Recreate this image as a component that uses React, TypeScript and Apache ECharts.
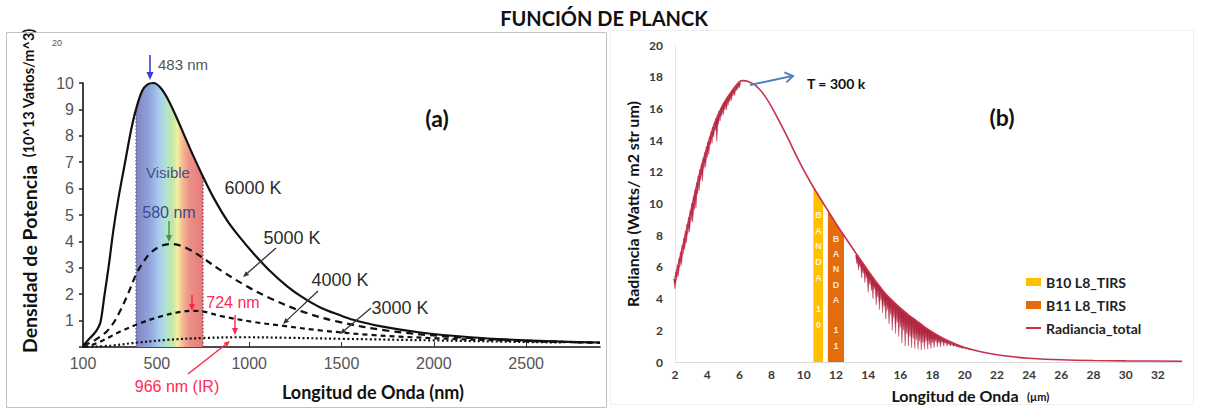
import React, { useEffect, useRef } from 'react';
import * as echarts from 'echarts';

// ---------- Panel (a): Planck curves (x: nm, y: 10^13 W/m^3) ----------
const xTicksA = [100, 500, 1000, 1500, 2000, 2500];
const visibleRange = [387, 750];

const curve6000K: [number, number][] = [
  [100, 0.05], [120, 0.2], [138, 0.34], [160, 0.5], [180, 0.7], [195, 0.95], [215, 1.9],
  [240, 3.1], [264, 4.4], [291, 5.6], [328, 7.0], [360, 8.2], [387, 9.0], [420, 9.7],
  [450, 9.95], [483, 10.0], [520, 9.82], [555, 9.45], [600, 8.8], [653, 7.95], [700, 7.2],
  [750, 6.45], [810, 5.62], [880, 4.8], [950, 4.15], [1021, 3.56], [1110, 2.9], [1206, 2.3],
  [1290, 1.88], [1385, 1.5], [1493, 1.2], [1563, 1.03], [1700, 0.8], [1927, 0.55],
  [2198, 0.37], [2469, 0.26], [2700, 0.2], [2900, 0.17],
];
const curve5000K: [number, number][] = [
  [100, 0.05], [150, 0.2], [192, 0.39], [230, 0.6], [264, 0.9], [300, 1.35], [337, 1.9],
  [391, 2.8], [430, 3.25], [463, 3.55], [520, 3.82], [580, 3.9], [662, 3.74], [752, 3.36],
  [842, 2.92], [987, 2.3], [1113, 1.85], [1293, 1.33], [1474, 0.97], [1747, 0.62],
  [2104, 0.38], [2500, 0.24], [2900, 0.16],
];
const curve4000K: [number, number][] = [
  [100, 0.0], [150, 0.08], [192, 0.2], [250, 0.4], [300, 0.58], [409, 0.9], [517, 1.15],
  [626, 1.33], [700, 1.37], [760, 1.33], [842, 1.18], [1022, 0.95], [1185, 0.8],
  [1384, 0.63], [1655, 0.46], [2015, 0.33], [2400, 0.24], [2900, 0.16],
];
const curve3000K: [number, number][] = [
  [120, 0.0], [250, 0.05], [371, 0.15], [555, 0.27], [750, 0.34], [966, 0.37], [1200, 0.35],
  [1500, 0.31], [2000, 0.25], [2500, 0.19], [2700, 0.17],
];

// ---------- Panel (b): radiance at T = 300 K (x: µm, y: W/m2 sr µm) ----------
const xTicksB = [2, 4, 6, 8, 10, 12, 14, 16, 18, 20, 22, 24, 26, 28, 30, 32];
const radianciaTotal: [number, number][] = [
  [2.0, 5.3], [2.5, 7.4], [3.0, 9.6], [3.5, 11.78], [4.0, 13.6], [4.5, 15.17], [5.0, 16.27],
  [5.5, 17.06], [6.0, 17.68], [6.25, 17.75], [6.5, 17.72], [7.0, 17.45], [7.5, 16.9],
  [8.0, 16.1], [8.5, 15.15], [9.0, 14.15], [9.5, 13.1], [10.0, 12.1], [10.5, 11.2],
  [11.0, 10.36], [11.5, 9.55], [12.0, 8.75], [12.5, 7.98], [13.0, 7.22], [13.5, 6.48],
  [14.0, 5.75], [14.5, 5.05], [15.0, 4.4], [15.5, 3.87], [16.0, 3.4], [16.5, 2.98],
  [17.0, 2.6], [17.5, 2.22], [18.0, 1.88], [18.5, 1.58], [19.0, 1.32], [19.5, 1.1],
  [20.0, 0.92], [21.0, 0.65], [22.0, 0.46], [23.0, 0.33], [24.0, 0.24], [26.0, 0.14],
  [28.0, 0.09], [30.0, 0.07], [33.5, 0.05],
];
const band10: [number, number][] = [[10.6, 11.03], [10.9, 10.53], [11.2, 10.04]];
const band11: [number, number][] = [[11.5, 9.55], [12.0, 8.75], [12.5, 7.98]];
// absorption lines: [µm, top (on the curve), bottom of the dip]
const absorptionLines: [number, number, number][] = [
  [2.0, 5.25, 4.6], [2.1, 5.67, 5.2], [2.2, 6.09, 5.4], [2.3, 6.51, 6.0], [2.4, 6.93, 6.1],
  [2.5, 7.35, 6.8], [2.6, 7.79, 7.1], [2.7, 8.23, 7.5], [2.8, 8.67, 8.1], [2.9, 9.11, 8.2],
  [3.0, 9.55, 8.9], [3.1, 9.99, 8.8], [3.2, 10.43, 9.6], [3.3, 10.86, 9.7], [3.4, 11.3, 10.6],
  [3.5, 11.73, 10.8], [3.6, 12.13, 11.5], [3.7, 12.49, 11.4], [3.8, 12.85, 12.2], [3.9, 13.2, 12.3],
  [4.0, 13.55, 12.9], [4.1, 13.88, 13.1], [4.2, 14.2, 13.7], [4.3, 14.52, 13.8], [4.4, 14.82, 14.2],
  [4.5, 15.1, 14.6], [4.6, 15.36, 13.9], [4.7, 15.6, 15.0], [4.8, 15.82, 15.2], [4.9, 16.03, 15.5],
  [5.0, 16.22, 15.6], [5.1, 16.39, 15.9], [5.2, 16.55, 15.9], [5.3, 16.7, 16.2], [5.4, 16.85, 16.4],
  [5.5, 17.0, 16.5], [5.6, 17.14, 16.8], [5.7, 17.27, 16.8], [5.8, 17.4, 17.1], [5.9, 17.52, 17.2],
  [6.0, 17.62, 17.3],
  [13.3, 6.73, 6.2], [13.4, 6.58, 5.8], [13.5, 6.43, 6.0], [13.6, 6.29, 5.3], [13.7, 6.15, 5.6],
  [13.8, 6.01, 5.0], [13.9, 5.85, 5.3], [14.0, 5.7, 4.4], [14.1, 5.56, 4.9], [14.2, 5.42, 4.5],
  [14.3, 5.28, 4.0], [14.4, 5.14, 4.6], [14.5, 5.0, 3.6], [14.6, 4.87, 4.1], [14.7, 4.74, 3.3],
  [14.8, 4.61, 3.9], [14.9, 4.48, 3.1], [15.0, 4.35, 3.5], [15.1, 4.24, 2.7], [15.2, 4.13, 3.3],
  [15.3, 4.03, 2.4], [15.4, 3.92, 3.0], [15.5, 3.82, 2.0], [15.6, 3.73, 2.8], [15.7, 3.63, 1.8],
  [15.8, 3.54, 2.5], [15.9, 3.44, 1.6], [16.0, 3.35, 2.2], [16.1, 3.27, 1.2], [16.2, 3.18, 2.0],
  [16.3, 3.1, 1.0], [16.4, 3.01, 1.8], [16.5, 2.93, 1.0], [16.6, 2.85, 1.6], [16.7, 2.78, 0.9],
  [16.8, 2.7, 1.5], [16.9, 2.63, 0.85], [17.0, 2.55, 1.4], [17.1, 2.47, 0.8], [17.2, 2.4, 1.3],
  [17.3, 2.32, 0.75], [17.4, 2.25, 1.2], [17.5, 2.17, 0.8], [17.6, 2.1, 1.3], [17.7, 2.03, 0.8],
  [17.8, 1.97, 1.1], [17.9, 1.9, 0.85], [18.0, 1.83, 1.2], [18.1, 1.77, 0.9], [18.2, 1.71, 1.3],
  [18.3, 1.65, 0.95], [18.4, 1.59, 1.2], [18.5, 1.53, 0.95], [18.6, 1.48, 1.25], [18.7, 1.43, 1.0],
  [18.8, 1.37, 1.2], [18.9, 1.32, 1.0], [19.0, 1.27, 1.12], [19.1, 1.23, 1.0], [19.2, 1.18, 1.08],
  [19.3, 1.14, 0.98], [19.4, 1.09, 1.0], [19.5, 1.05, 0.95], [19.6, 1.01, 0.93], [19.7, 0.98, 0.9],
  [19.8, 0.94, 0.88], [19.9, 0.91, 0.85], [20.1, 0.86, 0.8], [20.3, 0.82, 0.76],
];

const CALIBRI = 'Lato';
const HELV = 'Liberation Sans';

function arrow(x1: number, y1: number, x2: number, y2: number, color: string, lw: number, hl = 7, hw = 3.5) {
  const dx = x2 - x1, dy = y2 - y1, L = Math.hypot(dx, dy), ux = dx / L, uy = dy / L;
  const bx = x2 - ux * hl, by = y2 - uy * hl;
  return [
    { type: 'line', z: 100, shape: { x1, y1, x2: bx, y2: by }, style: { stroke: color, lineWidth: lw } },
    {
      type: 'polygon', z: 100,
      shape: { points: [[x2, y2], [bx - uy * hw, by + ux * hw], [bx + uy * hw, by - ux * hw]] },
      style: { fill: color },
    },
  ];
}

function txt(text: string, x: number, y: number, o: any = {}) {
  return {
    type: 'text', z: 100, x, y, rotation: o.rotation || 0,
    style: {
      text, fill: o.color || '#222', fontSize: o.size || 14, fontFamily: o.family || HELV,
      fontWeight: o.weight || 'normal', align: o.align || 'center', verticalAlign: o.valign || 'middle',
      lineHeight: o.lineHeight,
    },
  };
}

export default function App() {
  const ref = useRef<HTMLDivElement>(null);
  useEffect(() => {
    const chart = echarts.init(ref.current!, null, { renderer: 'svg' });
    const visibleBand = curve6000K.filter(p => p[0] >= visibleRange[0] && p[0] <= visibleRange[1]);
    const edgeL = visibleBand[0];
    const edgeR = visibleBand[visibleBand.length - 1];
    const lab = { fontFamily: CALIBRI, fontWeight: 'bold', fontSize: 12, color: '#3a3a3a' };
    const curveStyle = (type: any) => ({ color: '#111', width: 2.2, type });
    const bandText = { size: 9, weight: 'bold', color: 'rgba(255,255,255,0.85)', valign: 'top' };

    const graphic: any[] = [
      { type: 'rect', z: 90, shape: { x: 6.5, y: 32.5, width: 600, height: 375 }, style: { fill: 'none', stroke: '#c2c2c2', lineWidth: 1 } },
      { type: 'rect', z: 90, shape: { x: 610.5, y: 30.5, width: 583, height: 374 }, style: { fill: 'none', stroke: '#f0f0f0', lineWidth: 1 } },
      txt('FUNCIÓN DE PLANCK', 604, 18, { family: CALIBRI, weight: 'bold', size: 20, color: '#111' }),
      txt('20', 57, 43, { size: 9, color: '#555' }),
      txt('Densidad de Potencia', 29, 259, { family: CALIBRI, weight: 'bold', size: 19.5, rotation: Math.PI / 2, color: '#111' }),
      txt('(10^13 Vatios/m^3)', 28, 93, { family: CALIBRI, weight: 'bold', size: 14.5, rotation: Math.PI / 2, color: '#111' }),
      txt('Longitud de Onda (nm)', 373, 392, { family: CALIBRI, weight: 'bold', size: 18, color: '#111' }),
      txt('(a)', 437, 118, { family: CALIBRI, weight: 'bold', size: 23, color: '#111' }),
      txt('483 nm', 158, 64, { align: 'left', size: 15, color: '#555' }),
      txt('Visible', 168, 172, { size: 15, color: '#4b4b8c' }),
      txt('580 nm', 169, 212, { size: 16, color: '#3d4a8c' }),
      txt('724 nm', 233, 302, { size: 16, color: '#ff2a55' }),
      txt('966 nm (IR)', 177, 386, { size: 16, color: '#ff2a55' }),
      txt('6000 K', 253, 188, { size: 18, color: '#2b2b2b' }),
      txt('5000 K', 292, 238, { size: 18, color: '#2b2b2b' }),
      txt('4000 K', 340, 280, { size: 18, color: '#2b2b2b' }),
      txt('3000 K', 400, 308, { size: 18, color: '#2b2b2b' }),
      ...arrow(150, 55, 150, 80, '#3a3adc', 1.6, 8, 3.5),
      ...arrow(169, 221, 169, 242, '#3c9c3c', 1.4, 7, 3),
      ...arrow(192, 295, 192, 311, '#ff2244', 1.4, 7, 3),
      ...arrow(235, 315, 235, 335, '#ff2244', 1.4, 7, 3),
      ...arrow(188, 374, 230, 341, '#ff2244', 1.4, 6, 2.5),
      ...arrow(276, 248, 243, 277, '#333', 1.3, 6, 2.5),
      ...arrow(318, 291, 283, 324, '#333', 1.3, 6, 2.5),
      ...arrow(371, 308, 340, 334, '#333', 1.3, 6, 2.5),
      // panel b
      txt('Radiancia (Watts/ m2 str um)', 632, 204, { family: CALIBRI, weight: 'bold', size: 16, rotation: Math.PI / 2, color: '#111' }),
      txt('Longitud de Onda', 955, 395, { family: CALIBRI, weight: 'bold', size: 16, color: '#111' }),
      txt('(µm)', 1027, 396, { family: CALIBRI, weight: 'bold', size: 11, color: '#111', align: 'left' }),
      txt('(b)', 1002, 117, { family: CALIBRI, weight: 'bold', size: 23, color: '#111' }),
      txt('T = 300 k', 807, 83, { family: CALIBRI, weight: 'bold', size: 14, align: 'left', color: '#111' }),
      { type: 'line', z: 100, shape: { x1: 750, y1: 85, x2: 792, y2: 76 }, style: { stroke: '#4f81bd', lineWidth: 2 } },
      { type: 'polyline', z: 100, shape: { points: [[784.3, 72.4], [793, 76], [786.4, 82.4]] }, style: { stroke: '#4f81bd', lineWidth: 2, fill: 'none' } },
      txt('B\nA\nN\nD\nA\n\n1\n0', 818.5, 207, { ...bandText, lineHeight: 15.7 }),
      txt('B\nA\nN\nD\nA\n\n1\n1', 836, 231, { ...bandText, lineHeight: 15.3 }),
    ];

    chart.setOption({
      animation: false,
      backgroundColor: '#fff',
      grid: [
        { left: 83, top: 83, width: 517, height: 264 },
        { left: 675, top: 45, width: 507, height: 317 },
      ],
      xAxis: [
        {
          type: 'value', gridIndex: 0, min: 100, max: 2900,
          axisLine: { lineStyle: { color: '#111', width: 1.6 } },
          axisTick: { show: true, inside: true, length: 5, customValues: xTicksA, lineStyle: { color: '#333' } },
          axisLabel: { customValues: xTicksA, color: '#555', fontSize: 16, fontFamily: HELV, margin: 8, formatter: (v: number) => String(v) },
          splitLine: { show: false },
        },
        {
          type: 'value', gridIndex: 1, min: 2, max: 33.5,
          axisLine: { lineStyle: { color: '#d9d9d9', width: 1 } },
          axisTick: { show: false },
          axisLabel: { customValues: xTicksB, margin: 6, ...lab, formatter: (v: number) => String(v) },
          splitLine: { show: false },
        },
      ],
      yAxis: [
        {
          type: 'value', gridIndex: 0, min: 0, max: 10, interval: 1,
          axisLine: { show: true, lineStyle: { color: '#111', width: 1.6 } },
          axisTick: { show: true, length: 4, lineStyle: { color: '#222', width: 1.5 } },
          axisLabel: { color: '#555', fontSize: 16, fontFamily: HELV, margin: 9, formatter: (v: number) => (v === 0 ? '' : String(v)) },
          splitLine: { show: false },
        },
        {
          type: 'value', gridIndex: 1, min: 0, max: 20, interval: 2,
          axisLine: { show: true, lineStyle: { color: '#e6e6e6', width: 1 } },
          axisTick: { show: false },
          axisLabel: { margin: 12, ...lab },
          splitLine: { show: false },
        },
      ],
      legend: {
        left: 1020, top: 270, orient: 'vertical', itemWidth: 15, itemHeight: 8, itemGap: 9,
        textStyle: { fontFamily: CALIBRI, fontWeight: 'bold', fontSize: 14, color: '#222' },
        data: [
          { name: 'B10 L8_TIRS', icon: 'rect' },
          { name: 'B11 L8_TIRS', icon: 'rect' },
          { name: 'Radiancia_total', itemStyle: { opacity: 0 } },
        ],
      },
      graphic,
      series: [
        {
          name: 'Visible', type: 'line', xAxisIndex: 0, yAxisIndex: 0, data: visibleBand,
          smooth: 0.35, symbol: 'none', lineStyle: { width: 0 }, z: 1,
          areaStyle: {
            opacity: 1,
            color: new echarts.graphic.LinearGradient(0, 0, 1, 0, [
              { offset: 0, color: '#8282c4' }, { offset: 0.2, color: '#90a4dc' },
              { offset: 0.35, color: '#a9cdee' }, { offset: 0.45, color: '#b3e2d2' },
              { offset: 0.55, color: '#c4e8a2' }, { offset: 0.62, color: '#f2f0a2' },
              { offset: 0.7, color: '#f4b890' }, { offset: 0.8, color: '#ec9088' },
              { offset: 1, color: '#e87a7a' },
            ]),
          },
        },
        {
          name: 'edgeL', type: 'line', xAxisIndex: 0, yAxisIndex: 0, data: [[edgeL[0], 0], edgeL],
          symbol: 'none', lineStyle: { color: '#555', width: 1.2, type: [1.5, 2] }, z: 2,
        },
        {
          name: 'edgeR', type: 'line', xAxisIndex: 0, yAxisIndex: 0, data: [[edgeR[0], 0], edgeR],
          symbol: 'none', lineStyle: { color: '#555', width: 1.2, type: [1.5, 2] }, z: 2,
        },
        { name: '6000 K', type: 'line', xAxisIndex: 0, yAxisIndex: 0, data: curve6000K, smooth: 0.35, symbol: 'none', clip: false, lineStyle: curveStyle('solid'), z: 5 },
        { name: '5000 K', type: 'line', xAxisIndex: 0, yAxisIndex: 0, data: curve5000K, smooth: 0.35, symbol: 'none', clip: false, lineStyle: curveStyle([7, 5]), z: 5 },
        { name: '4000 K', type: 'line', xAxisIndex: 0, yAxisIndex: 0, data: curve4000K, smooth: 0.35, symbol: 'none', clip: false, lineStyle: curveStyle([5, 4]), z: 5 },
        { name: '3000 K', type: 'line', xAxisIndex: 0, yAxisIndex: 0, data: curve3000K, smooth: 0.35, symbol: 'none', clip: false, lineStyle: curveStyle([2, 2.5]), z: 5 },
        {
          name: 'B10 L8_TIRS', type: 'line', xAxisIndex: 1, yAxisIndex: 1, data: band10, color: '#ffc000',
          symbol: 'none', lineStyle: { width: 0 }, areaStyle: { color: '#ffc000', opacity: 1 }, z: 2,
        },
        {
          name: 'B11 L8_TIRS', type: 'line', xAxisIndex: 1, yAxisIndex: 1, data: band11, color: '#e46c0a',
          symbol: 'none', lineStyle: { width: 0 }, areaStyle: { color: '#e46c0a', opacity: 1 }, z: 2,
        },
        {
          name: 'Radiancia_total', type: 'line', xAxisIndex: 1, yAxisIndex: 1, data: radianciaTotal, color: '#c8304e',
          smooth: 0.3, symbol: 'none', lineStyle: { color: '#c8304e', width: 1.6 }, z: 4,
        },
        {
          name: 'absorcion', type: 'custom', xAxisIndex: 1, yAxisIndex: 1, data: absorptionLines, z: 3,
          encode: { x: 0, y: [1, 2] },
          renderItem: (_p: any, api: any) => {
            const x = api.value(0), t = api.value(1), b = api.value(2);
            const p1 = api.coord([x - 0.085, t]), p2 = api.coord([x, b]), p3 = api.coord([x + 0.085, t]);
            return { type: 'polygon', shape: { points: [p1, p2, p3] }, style: { fill: '#ad2540', stroke: '#b8304a', lineWidth: 0.4 } };
          },
        },
      ],
    });
    return () => chart.dispose();
  }, []);
  return <div ref={ref} style={{ position: 'absolute', left: 0, top: 0, width: 1209, height: 410 }} />;
}
